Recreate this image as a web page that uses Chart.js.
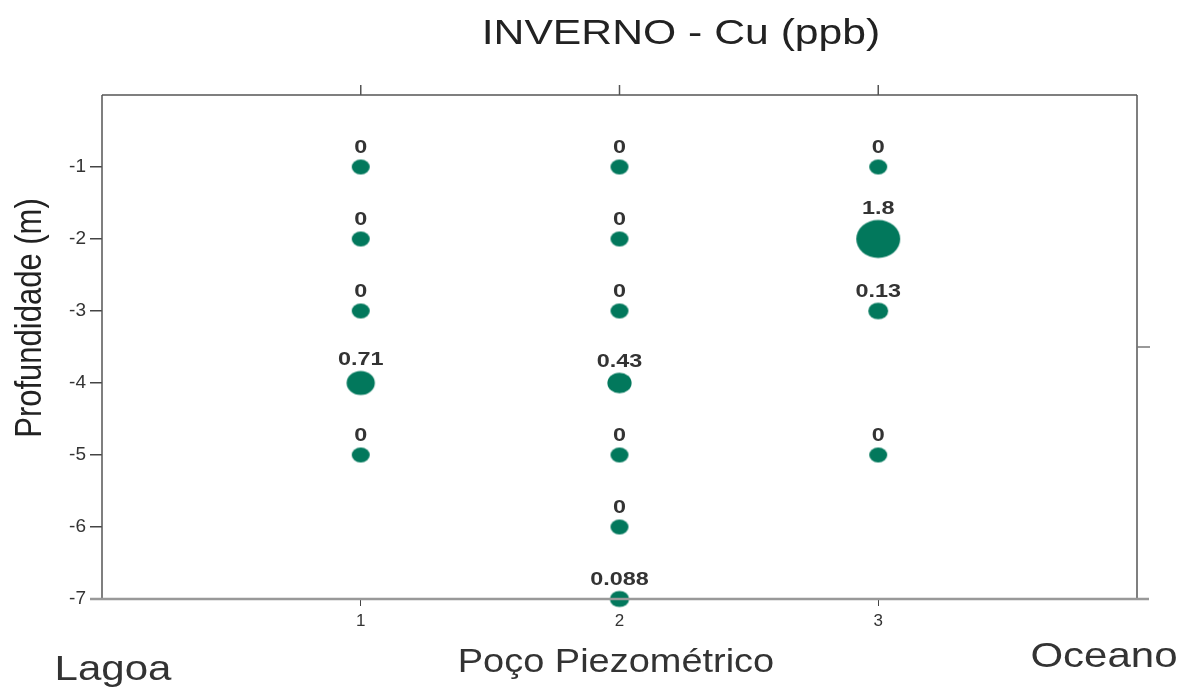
<!DOCTYPE html>
<html><head><meta charset="utf-8">
<script src="https://cdn.jsdelivr.net/npm/chart.js@4"></script>
<style>html,body{margin:0;padding:0;background:#fff;}#wrap{width:1181px;height:688px;}</style>
</head><body><div id="wrap"><canvas id="c" width="1181" height="688"></canvas></div>
<script>
const wells = [1,1,1,1,1, 2,2,2,2,2,2,2, 3,3,3,3];
const depths = [-1,-2,-3,-4,-5, -1,-2,-3,-4,-5,-6,-7, -1,-2,-3,-5];
const cuValues = [0,0,0,0.71,0, 0,0,0,0.43,0,0,0.088, 0,1.8,0.13,0];
const cuLabels = ["0","0","0","0.71","0", "0","0","0","0.43","0","0","0.088", "0","1.8","0.13","0"];
const xTicks = [1,2,3];
const yTicks = [-1,-2,-3,-4,-5,-6,-7];
const title = "INVERNO - Cu (ppb)";
const xTitle = "Poço Piezométrico";
const yTitle = "Profundidade (m)";
const leftNote = "Lagoa";
const rightNote = "Oceano";

const FILL = '#02785c';
const FONT = '"Liberation Sans", Arial, sans-serif';
function rx(v){ return 9 + 7.2*v; }
function ry(v){ return 7.5 + 6.4*v; }
const imgCache = {};
function ellipseImg(v){
  if (imgCache[v]) return imgCache[v];
  const a = rx(v), b = ry(v);
  const cv = document.createElement('canvas');
  cv.width = Math.ceil(2*a+2); cv.height = Math.ceil(2*b+2);
  const g = cv.getContext('2d');
  g.fillStyle = FILL;
  g.beginPath(); g.ellipse(cv.width/2, cv.height/2, a, b, 0, 0, Math.PI*2); g.fill();
  imgCache[v] = cv; return cv;
}

const points = wells.map((w,i)=>({x:w, y:depths[i], v:cuValues[i], t:cuLabels[i]}));

function stretchText(ctx, text, x, y, font, color, align, baseline, sx){
  ctx.save();
  ctx.font = font; ctx.fillStyle = color; ctx.textAlign = align; ctx.textBaseline = baseline;
  ctx.translate(x, y); ctx.scale(sx, 1); ctx.fillText(text, 0, 0);
  ctx.restore();
}

const decor = {
  id:'decor',
  afterDatasetsDraw(chart){
    const ctx = chart.ctx;
    const meta = chart.getDatasetMeta(0);
    meta.data.forEach((el,i)=>{
      const p = points[i];
      stretchText(ctx, p.t, el.x, el.y - ry(p.v) - 2, 'bold 18px ' + FONT, '#333', 'center', 'bottom', 1.3);
    });
  },
  afterDraw(chart){
    const ctx = chart.ctx, a = chart.chartArea;
    const xs = chart.scales.x, ys = chart.scales.y;
    ctx.save();
    ctx.strokeStyle = '#555'; ctx.lineWidth = 1.5;
    ctx.beginPath(); ctx.moveTo(a.left, a.top); ctx.lineTo(a.right, a.top); ctx.stroke();
    ctx.beginPath(); ctx.moveTo(a.left, a.top); ctx.lineTo(a.left, a.bottom); ctx.stroke();
    ctx.beginPath(); ctx.moveTo(a.right, a.top); ctx.lineTo(a.right, a.bottom); ctx.stroke();
    xTicks.forEach(t=>{ const px = xs.getPixelForValue(t); ctx.beginPath(); ctx.moveTo(px, a.top); ctx.lineTo(px, a.top-10); ctx.stroke(); });
    ctx.strokeStyle = '#777';
    const py = ys.getPixelForValue(-3.5);
    ctx.beginPath(); ctx.moveTo(a.right, py); ctx.lineTo(a.right+13, py); ctx.stroke();
    ctx.strokeStyle = '#999'; ctx.lineWidth = 2.5;
    ctx.beginPath(); ctx.moveTo(a.left-12, a.bottom); ctx.lineTo(a.right+12, a.bottom); ctx.stroke();
    ctx.restore();
    stretchText(ctx, title, 681, 34, '35px ' + FONT, '#222', 'center', 'middle', 1.22);
    stretchText(ctx, xTitle, 616, 672, '33px ' + FONT, '#333', 'center', 'alphabetic', 1.15);
    stretchText(ctx, leftNote, 113, 680, '35px ' + FONT, '#333', 'center', 'alphabetic', 1.2);
    stretchText(ctx, rightNote, 1104, 667, '35px ' + FONT, '#333', 'center', 'alphabetic', 1.2);
    ctx.save();
    ctx.font = '31px ' + FONT; ctx.fillStyle = '#222';
    ctx.textAlign = 'center'; ctx.textBaseline = 'middle';
    ctx.translate(31, 318); ctx.scale(1.2, 1); ctx.rotate(-Math.PI/2); ctx.fillText(yTitle, 0, 0);
    ctx.restore();
  }
};

new Chart(document.getElementById('c'), {
  type:'scatter',
  data:{ datasets:[{ data: points, clip:false, pointStyle: (c)=> ellipseImg(points[c.dataIndex].v), pointRadius: (c)=> rx(points[c.dataIndex].v), backgroundColor: FILL }] },
  options:{
    responsive:false, animation:false,
    layout:{ padding:{ left:0, top:95, right:44, bottom:49 } },
    plugins:{ legend:{display:false}, tooltip:{enabled:false} },
    scales:{
      x:{ type:'linear', min:0, max:4,
        afterBuildTicks(s){ s.ticks = xTicks.map(v=>({value:v})); },
        afterFit(s){ s.height = 40; },
        border:{ display:false },
        grid:{ drawOnChartArea:false, tickLength:7, color:'#444', lineWidth:1 },
        ticks:{ color:'#333', font:{ size:17, family:FONT }, padding:5 } },
      y:{ type:'linear', min:-7, max:0,
        afterBuildTicks(s){ s.ticks = yTicks.map(v=>({value:v})); },
        afterFit(s){ s.width = 102; },
        border:{ display:false },
        grid:{ drawOnChartArea:false, tickLength:12, color:'#444', lineWidth:1.5 },
        ticks:{ color:'#333', font:{ size:19, family:FONT }, padding:4 } }
    }
  },
  plugins:[decor]
});
</script></body></html>
